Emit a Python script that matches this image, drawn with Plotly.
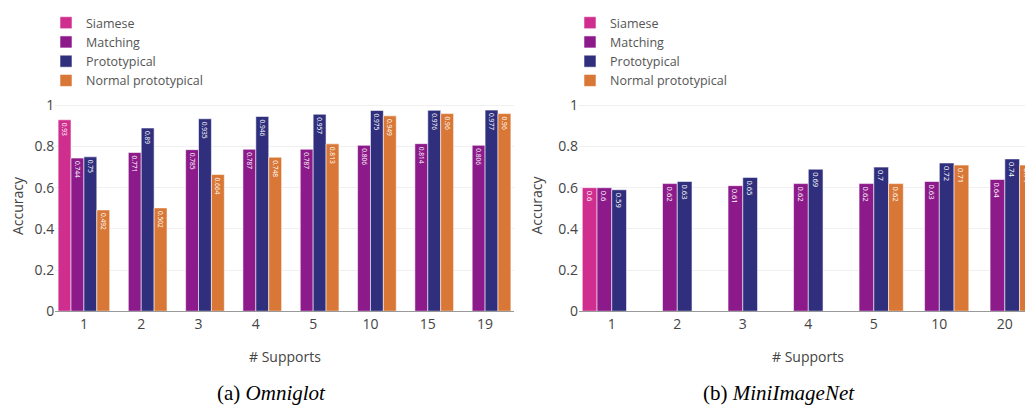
import plotly.graph_objects as go

# page has an 8px body margin; compensate
OFF = 8
W, H = 1033 - OFF, 406 - OFF

methods = ["Siamese", "Matching", "Prototypical", "Normal prototypical"]
colors = ["#cf2e8f", "#8c1a8a", "#2f2f7d", "#d97836"]

omni_cats = ["1", "2", "3", "4", "5", "10", "15", "19"]
omni_siamese = [0.93, None, None, None, None, None, None, None]
omni_matching = [0.744, 0.771, 0.785, 0.787, 0.787, 0.806, 0.814, 0.806]
omni_proto = [0.75, 0.89, 0.935, 0.946, 0.957, 0.975, 0.976, 0.977]
omni_normal = [0.492, 0.502, 0.664, 0.748, 0.813, 0.949, 0.96, 0.96]

mini_cats = ["1", "2", "3", "4", "5", "10", "20"]
mini_siamese = [0.6, None, None, None, None, None, None]
mini_matching = [0.6, 0.62, 0.61, 0.62, 0.62, 0.63, 0.64]
mini_proto = [0.59, 0.63, 0.65, 0.69, 0.7, 0.72, 0.74]
mini_normal = [None, None, None, None, 0.62, 0.71, 0.71]

fig = go.Figure()

def px(x):
    return (x - OFF) / W

def py(y):
    return 1 - (y - OFF) / H

def fmt(v):
    return "" if v is None else ("%g" % v)

omni_series = [omni_siamese, omni_matching, omni_proto, omni_normal]
mini_series = [mini_siamese, mini_matching, mini_proto, mini_normal]

for i, (name, vals) in enumerate(zip(methods, omni_series)):
    fig.add_trace(go.Bar(
        x=omni_cats, y=vals, name=name, text=[fmt(v) for v in vals],
        textposition="inside", textangle=90, insidetextanchor="end",
        constraintext="none",
        textfont=dict(color="white", size=6.6, family="Open Sans"),
        marker=dict(color=colors[i], line=dict(color="rgba(255,255,255,0.55)", width=1)),
        xaxis="x", yaxis="y", legend="legend", hoverinfo="skip"))

for i, (name, vals) in enumerate(zip(methods, mini_series)):
    fig.add_trace(go.Bar(
        x=mini_cats, y=vals, name=name, text=[fmt(v) for v in vals],
        textposition="inside", textangle=90, insidetextanchor="end",
        constraintext="none",
        textfont=dict(color="white", size=7.6, family="Open Sans"),
        marker=dict(color=colors[i], line=dict(color="rgba(255,255,255,0.55)", width=1)),
        xaxis="x2", yaxis="y2", legend="legend2", hoverinfo="skip"))

ydom = [py(310), py(95.3)]
axis_font = dict(family="Open Sans", size=14, color="#444")

common_y = dict(range=[0, 1.03], tickvals=[0, 0.2, 0.4, 0.6, 0.8, 1],
                ticktext=["0", "0.2", "0.4", "0.6", "0.8", "1"],
                showgrid=True, gridcolor="#f0f0f0", zeroline=False,
                tickfont=axis_font, automargin=False, showline=False)
common_x = dict(type="category", showline=True, linecolor="#999", linewidth=1,
                tickfont=axis_font, automargin=False, showgrid=False)

title_font = dict(family="Open Sans", size=14, color="#444")
annotations = []
for x in (17.5, 537):
    annotations.append(dict(text="Accuracy", x=px(x), y=py(203), xref="paper", yref="paper",
                            showarrow=False, textangle=-90, xanchor="center", yanchor="middle",
                            borderpad=0, font=title_font))
for x in (285, 808):
    annotations.append(dict(text="# Supports", x=px(x), y=py(356), xref="paper", yref="paper",
                            showarrow=False, xanchor="center", yanchor="middle",
                            font=title_font))
annotations.append(dict(text="(a) <i>Omniglot</i>", x=px(271), y=py(393), xref="paper", yref="paper",
                        showarrow=False, xanchor="center", yanchor="middle",
                        font=dict(family="Liberation Serif", size=21, color="black")))
annotations.append(dict(text="(b) <i>MiniImageNet</i>", x=px(779), y=py(393), xref="paper", yref="paper",
                        showarrow=False, xanchor="center", yanchor="middle",
                        font=dict(family="Liberation Serif", size=21, color="black")))

legend_font = dict(family="Open Sans", size=12.5, color="#555")

fig.update_layout(
    width=W, height=H,
    margin=dict(l=0, r=0, t=0, b=0),
    paper_bgcolor="white", plot_bgcolor="white",
    barmode="group", bargap=0.1, bargroupgap=0,
    font=dict(family="Open Sans", color="#444"),
    xaxis=dict(domain=[px(55.25), px(513.75)], anchor="y", **common_x),
    yaxis=dict(domain=ydom, anchor="x", **common_y),
    xaxis2=dict(domain=[px(579), 1.0], anchor="y2", range=[-0.5, 6.43], **common_x),
    yaxis2=dict(domain=ydom, anchor="x2", **common_y),
    legend=dict(x=px(46), y=py(3), xanchor="left", yanchor="top",
                font=legend_font, bgcolor="rgba(0,0,0,0)", tracegroupgap=0),
    legend2=dict(x=px(570), y=py(3), xanchor="left", yanchor="top",
                 font=legend_font, bgcolor="rgba(0,0,0,0)", tracegroupgap=0),
    annotations=annotations,
)

fig.write_html("out.html")
